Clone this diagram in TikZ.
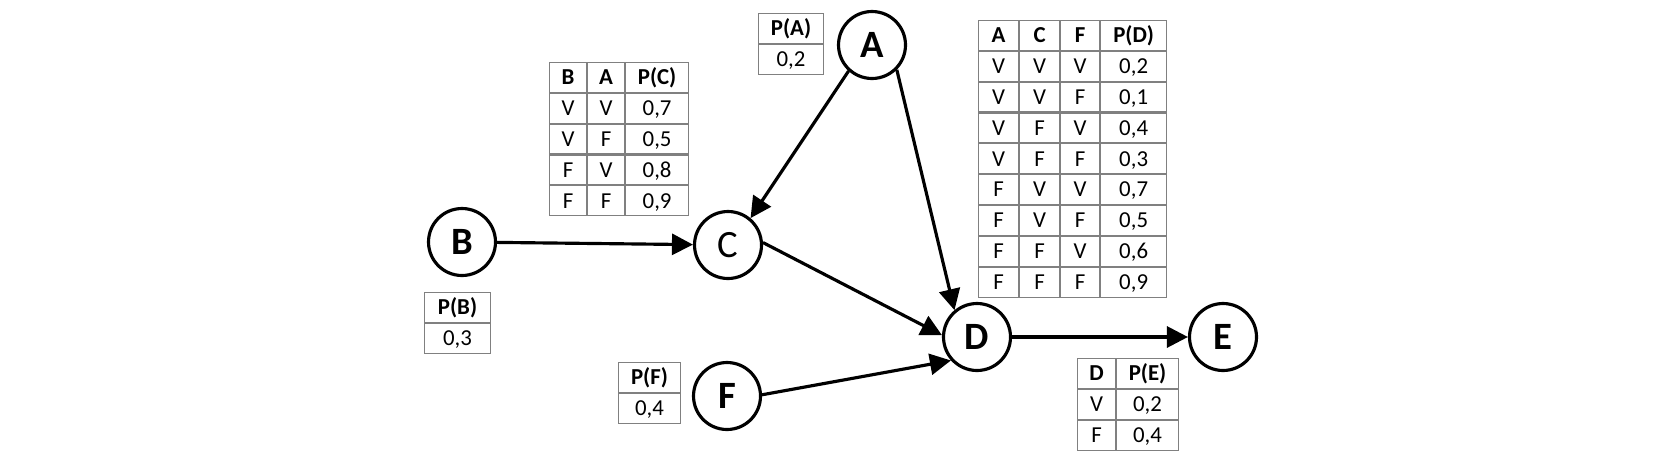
\documentclass[tikz,border=0pt]{standalone}
\usepackage{fontspec}
\setmainfont{Carlito}
\usetikzlibrary{arrows.meta,matrix}
\definecolor{tgray}{RGB}{128,128,128}
\newcommand\tabfont{\fontsize{13}{15}\selectfont}
\newcommand\bigfont{\fontsize{22}{24}\selectfont}
\tikzset{
  bn/.style={circle, draw, line width=1.8pt, minimum size=1.34cm, inner sep=0pt, font=\bigfont\bfseries},
  arr/.style={line width=1.8pt, -{Triangle[length=0.42cm,width=0.42cm]}},
  tbl/.style={matrix of nodes, anchor=north west, inner sep=0pt, outer sep=0pt, row sep=0pt, column sep=0pt,
    nodes={draw=tgray, line width=0.6pt, inner sep=0pt, outer sep=0pt, minimum height=0.596cm,
           text height=8.3pt, text depth=0pt, font=\tabfont, anchor=center},
    row 1/.style={nodes={font=\tabfont\bfseries}}},
  cw1/.style={column 1/.style={nodes={minimum width=#1}}},
  cw2/.style={column 2/.style={nodes={minimum width=#1}}},
  cw3/.style={column 3/.style={nodes={minimum width=#1}}},
  cw4/.style={column 4/.style={nodes={minimum width=#1}}},
}
\begin{document}
\begin{tikzpicture}[x=0.02cm, y=-0.02cm]
\useasboundingbox (0,0) rectangle (1656,474);

% nodes
\node[bn] (A) at (872,45) {A};
\node[bn] (B) at (462,242) {B};
\node[bn, font=\bigfont] (C) at (728,245) {C};
\node[bn] (D) at (977,337) {D};
\node[bn] (E) at (1223,337) {E};
\node[bn] (F) at (727,396) {F};

% connectors
\draw[arr] (A.-132) -- (C.50);
\draw[arr] (A.-45) -- (D.130);
\draw[arr] (B) -- (C);
\draw[arr] (C.4) -- (D.177);
\draw[arr] (F.2) -- (D.-138);
\draw[arr] (D) -- (E);

% tables
\matrix (tA) [tbl, cw1=1.30cm, nodes={minimum height=0.6cm}] at (758,13) {
P(A) \\
0,2 \\
};
\matrix (tB) [tbl, cw1=1.32cm, nodes={minimum height=0.6cm}] at (424,292) {
P(B) \\
0,3 \\
};
\matrix (tF) [tbl, cw1=1.24cm, nodes={minimum height=0.6cm}] at (618,362) {
P(F) \\
0,4 \\
};
\matrix (tC) [tbl, cw1=0.74cm, cw2=0.74cm, cw3=1.26cm] at (549,62) {
B & A & P(C) \\
V & V & 0,7 \\
V & F & 0,5 \\
F & V & 0,8 \\
F & F & 0,9 \\
};
\matrix (tD) [tbl, cw1=0.80cm, cw2=0.80cm, cw3=0.78cm, cw4=1.32cm] at (978,20) {
A & C & F & P(D) \\
V & V & V & 0,2 \\
V & V & F & 0,1 \\
V & F & V & 0,4 \\
V & F & F & 0,3 \\
F & V & V & 0,7 \\
F & V & F & 0,5 \\
F & F & V & 0,6 \\
F & F & F & 0,9 \\
};
\matrix (tE) [tbl, cw1=0.76cm, cw2=1.24cm, nodes={minimum height=0.6cm}] at (1077,358) {
D & P(E) \\
V & 0,2 \\
F & 0,4 \\
};
\end{tikzpicture}
\end{document}
